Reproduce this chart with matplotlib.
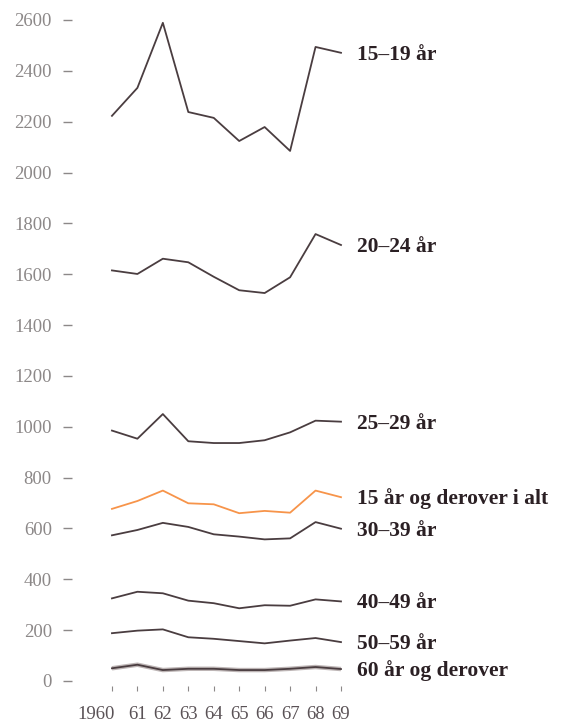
import matplotlib
matplotlib.use("Agg")
import matplotlib.pyplot as plt
from matplotlib.transforms import ScaledTranslation

years = [1960, 1961, 1962, 1963, 1964, 1965, 1966, 1967, 1968, 1969]
year_labels = ["1960", "61", "62", "63", "64", "65", "66", "67", "68", "69"]

age_15_19 = [2223, 2333, 2589, 2238, 2215, 2124, 2179, 2085, 2494, 2471]
age_20_24 = [1615, 1601, 1661, 1647, 1590, 1537, 1526, 1588, 1758, 1715]
age_25_29 = [985, 953, 1050, 943, 936, 936, 947, 978, 1024, 1020]
total_15 = [677, 708, 749, 699, 695, 660, 669, 662, 749, 723]
age_30_39 = [573, 594, 622, 606, 577, 568, 557, 561, 625, 599]
age_40_49 = [325, 351, 345, 316, 306, 286, 298, 296, 321, 313]
age_50_59 = [188, 198, 203, 172, 166, 157, 148, 159, 169, 153]
age_60 = [50, 64, 43, 48, 48, 43, 43, 48, 55, 47]

series = [
    ("15–19 år", age_15_19),
    ("20–24 år", age_20_24),
    ("25–29 år", age_25_29),
    ("15 år og derover i alt", total_15),
    ("30–39 år", age_30_39),
    ("40–49 år", age_40_49),
    ("50–59 år", age_50_59),
    ("60 år og derover", age_60),
]

yticks = list(range(0, 2601, 200))

dark = "#4a3d40"
orange = "#f7944a"
serif = ["Liberation Serif", "DejaVu Serif"]

W, H = 573, 723
fig = plt.figure(figsize=(W / 100, H / 100), dpi=100)
ax = fig.add_axes([72 / W, (H - 686) / H, 278 / W, 666 / H])

for name, vals in series:
    color = orange if name.startswith("15 år") else dark
    if name.startswith("60"):
        # grey halo under the lowest line
        ax.plot(years, vals, color="#bdb5b5", lw=3.2, solid_capstyle="butt", zorder=2)
    ax.plot(years, vals, color=color, lw=1.3, zorder=3)
    ax.annotate(name, xy=(years[-1], vals[-1]), xytext=(11.5, -5),
                textcoords="offset points", va="baseline", ha="left",
                fontsize=15.5, fontweight="bold", color="#2b2024",
                family=serif, annotation_clip=False)

ax.set_xlim(1958.43, 1969.354)
ax.set_ylim(-19.7, 2600)

ax.set_yticks(yticks)
ax.set_yticklabels([str(v) for v in yticks], family=serif, fontsize=13.5, color="#8c8888")
ax.set_xticks(years)
ax.set_xticklabels(year_labels, family=serif, fontsize=13.5, color="#5a5256")

ax.tick_params(axis="y", direction="out", length=6.5, width=1, color="#8c8888", pad=8)
ax.tick_params(axis="x", direction="out", length=3.6, width=0.8, color="#8c8888", pad=11)

# first year label sits left of its tick so it clears "61"
first = ax.get_xticklabels()[0]
first.set_ha("right")
first.set_transform(first.get_transform() + ScaledTranslation(2 / 72, 0, fig.dpi_scale_trans))

for s in ax.spines.values():
    s.set_visible(False)

fig.savefig("out.png", dpi=100)
